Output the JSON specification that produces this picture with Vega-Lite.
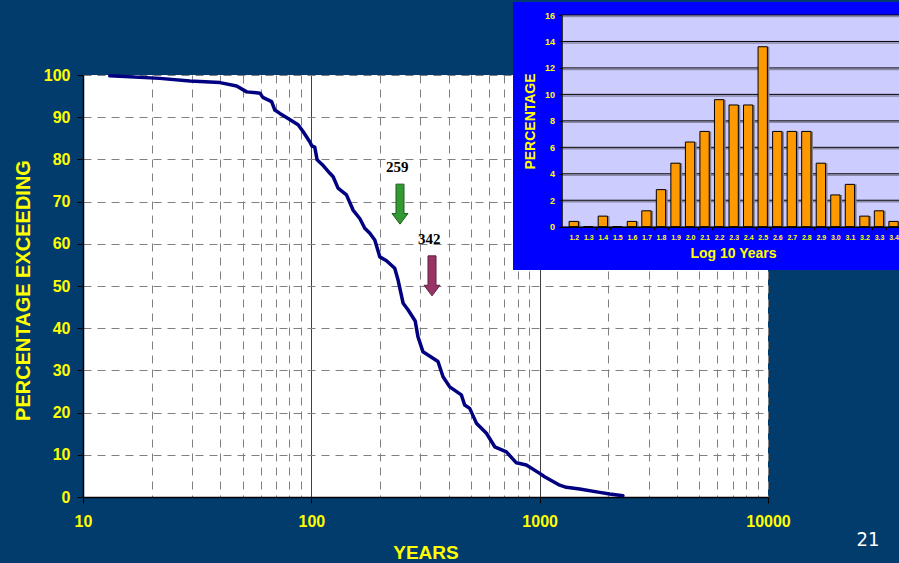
{
  "$schema": "https://vega.github.io/schema/vega-lite/v6.json",
  "width": 685,
  "height": 422,
  "autosize": {"type": "none"},
  "padding": {"left": 83, "top": 75, "right": 131, "bottom": 66},
  "background": "#013C6C",
  "config": {"view": {"fill": "white", "stroke": null}, "font": "Liberation Sans"},
  "resolve": {"scale": {"x": "independent", "y": "independent"}, "axis": {"x": "independent", "y": "independent"}},
  "layer": [
    {
      "data": {"values": [
        {"years": 13.1, "pct": 99.8}, {"years": 21.7, "pct": 99.2}, {"years": 29.4, "pct": 98.6},
        {"years": 39.8, "pct": 98.2}, {"years": 47.1, "pct": 97.4}, {"years": 52.1, "pct": 96.0},
        {"years": 59.6, "pct": 95.7}, {"years": 61.3, "pct": 94.7}, {"years": 67, "pct": 93.7},
        {"years": 69.2, "pct": 91.7}, {"years": 72.8, "pct": 90.9}, {"years": 79.1, "pct": 89.7},
        {"years": 87.5, "pct": 88.2}, {"years": 92, "pct": 86.6}, {"years": 98.4, "pct": 84.2},
        {"years": 100.5, "pct": 83.2}, {"years": 103.5, "pct": 82.9}, {"years": 106, "pct": 79.9},
        {"years": 111.5, "pct": 78.8}, {"years": 120.6, "pct": 76.7}, {"years": 124.6, "pct": 75.9},
        {"years": 130.9, "pct": 73.2}, {"years": 142.5, "pct": 71.6}, {"years": 152.3, "pct": 68.0},
        {"years": 163, "pct": 66.0}, {"years": 171.4, "pct": 63.7}, {"years": 180.4, "pct": 62.5},
        {"years": 189.6, "pct": 60.9}, {"years": 199.5, "pct": 56.9}, {"years": 213.4, "pct": 56.0},
        {"years": 231.9, "pct": 54.2}, {"years": 239.8, "pct": 51.4}, {"years": 252.4, "pct": 45.9},
        {"years": 265.5, "pct": 44.3}, {"years": 285, "pct": 41.7}, {"years": 293, "pct": 38.0},
        {"years": 308.3, "pct": 34.4}, {"years": 358.6, "pct": 32.1}, {"years": 377.4, "pct": 28.5},
        {"years": 403.7, "pct": 26.1}, {"years": 453.9, "pct": 24.2}, {"years": 469.3, "pct": 21.8},
        {"years": 493.9, "pct": 21.0}, {"years": 528.3, "pct": 17.5}, {"years": 584.5, "pct": 15.1},
        {"years": 635.8, "pct": 11.9}, {"years": 714.9, "pct": 10.7}, {"years": 790.5, "pct": 8.1},
        {"years": 874.3, "pct": 7.6}, {"years": 1000, "pct": 5.6}, {"years": 1051, "pct": 4.8},
        {"years": 1224, "pct": 2.8}, {"years": 1308, "pct": 2.3}, {"years": 1497, "pct": 1.9},
        {"years": 1831, "pct": 1.1}, {"years": 2025, "pct": 0.7}, {"years": 2315, "pct": 0.3}
      ]},
      "mark": {"type": "line", "color": "#000080", "strokeWidth": 3.5, "strokeCap": "round", "strokeJoin": "round"},
      "encoding": {
        "x": {
          "field": "years", "type": "quantitative",
          "scale": {"type": "log", "domain": [10, 10000]},
          "axis": {
            "orient": "bottom",
            "title": "YEARS",
            "values": [10, 20, 30, 40, 50, 60, 70, 80, 90, 100, 200, 300, 400, 500, 600, 700, 800, 900, 1000, 2000, 3000, 4000, 5000, 6000, 7000, 8000, 9000, 10000],
            "format": "d",
            "labelExpr": "(datum.value == 10 || datum.value == 100 || datum.value == 1000 || datum.value == 10000) ? datum.label : ''",
            "labelFlush": false, "labelOverlap": false,
            "labelColor": "#FFFF00", "labelFontWeight": "bold", "labelFontSize": 16, "labelPadding": 10,
            "tickSize": 6, "tickColor": "black",
            "tickOpacity": {"condition": {"test": "datum.value == 10 || datum.value == 100 || datum.value == 1000 || datum.value == 10000", "value": 1}, "value": 0},
            "domainColor": "black", "domainWidth": 1.5,
            "grid": true,
            "gridColor": {"condition": {"test": "datum.value == 100 || datum.value == 1000", "value": "black"}, "value": "#808080"},
            "gridDash": {"condition": {"test": "datum.value == 100 || datum.value == 1000", "value": [1, 0]}, "value": [8, 6]},
            "gridOpacity": 1, "gridWidth": 1,
            "titleColor": "#FFFF00", "titleFontWeight": "bold", "titleFontSize": 19,
            "titleX": 342.5, "titleY": 55, "titleBaseline": "middle", "titleAlign": "center"
          }
        },
        "y": {
          "field": "pct", "type": "quantitative",
          "scale": {"domain": [0, 100], "nice": false},
          "axis": {
            "orient": "left",
            "title": "PERCENTAGE EXCEEDING",
            "values": [0, 10, 20, 30, 40, 50, 60, 70, 80, 90, 100],
            "labelColor": "#FFFF00", "labelFontWeight": "bold", "labelFontSize": 16, "labelPadding": 7,
            "tickSize": 6, "tickColor": "black",
            "domainColor": "black", "domainWidth": 1.5,
            "grid": true, "gridColor": "#808080", "gridDash": [8, 6], "gridOpacity": 1, "gridWidth": 1,
            "titleColor": "#FFFF00", "titleFontWeight": "bold", "titleFontSize": 20,
            "titleX": -60, "titleY": 215, "titleAngle": -90, "titleBaseline": "middle", "titleAlign": "center"
          }
        }
      }
    },
    {
      "data": {"values": [{}]},
      "mark": {"type": "point", "shape": "M-0.2,-1L0.2,-1L0.2,0.47L0.4,0.47L0,1L-0.4,0.47L-0.2,0.47Z", "size": 1600, "filled": true, "fill": "#339933", "stroke": "#1E5E1E", "strokeWidth": 1, "opacity": 1},
      "encoding": {
        "x": {"datum": 244.5, "type": "quantitative", "scale": {"type": "log", "domain": [10, 10000]}, "axis": null},
        "y": {"datum": 69.4, "type": "quantitative", "scale": {"domain": [0, 100], "nice": false}, "axis": null}
      }
    },
    {
      "data": {"values": [{}]},
      "mark": {"type": "point", "shape": "M-0.2,-1L0.2,-1L0.2,0.47L0.4,0.47L0,1L-0.4,0.47L-0.2,0.47Z", "size": 1600, "filled": true, "fill": "#993366", "stroke": "#5E1E3E", "strokeWidth": 1, "opacity": 1},
      "encoding": {
        "x": {"datum": 337.7, "type": "quantitative", "scale": {"type": "log", "domain": [10, 10000]}, "axis": null},
        "y": {"datum": 52.4, "type": "quantitative", "scale": {"domain": [0, 100], "nice": false}, "axis": null}
      }
    },
    {
      "data": {"values": [{}]},
      "mark": {"type": "text", "text": "259", "font": "Liberation Serif", "fontWeight": "bold", "fontSize": 15, "color": "black", "baseline": "middle", "align": "center"},
      "encoding": {
        "x": {"datum": 238, "type": "quantitative", "scale": {"type": "log", "domain": [10, 10000]}, "axis": null},
        "y": {"datum": 78.3, "type": "quantitative", "scale": {"domain": [0, 100], "nice": false}, "axis": null}
      }
    },
    {
      "data": {"values": [{}]},
      "mark": {"type": "text", "text": "342", "font": "Liberation Serif", "fontWeight": "bold", "fontSize": 15, "color": "black", "baseline": "middle", "align": "center"},
      "encoding": {
        "x": {"datum": 328.2, "type": "quantitative", "scale": {"type": "log", "domain": [10, 10000]}, "axis": null},
        "y": {"datum": 61.2, "type": "quantitative", "scale": {"domain": [0, 100], "nice": false}, "axis": null}
      }
    },
    {
      "data": {"values": [{}]},
      "mark": {"type": "text", "text": "21", "font": "DejaVu Sans Condensed, Liberation Sans, sans-serif", "fontSize": 20, "color": "white", "baseline": "middle", "align": "center"},
      "encoding": {
        "x": {"datum": 27400, "type": "quantitative", "scale": {"type": "log", "domain": [10, 10000]}, "axis": null},
        "y": {"datum": -10.2, "type": "quantitative", "scale": {"domain": [0, 100], "nice": false}, "axis": null}
      }
    },
    {
      "data": {"values": [{}]},
      "mark": {"type": "rect", "color": "#0000FF"},
      "encoding": {
        "x": {"datum": 0.826, "type": "quantitative", "scale": {"domain": [1.15, 3.45], "range": [478.5, 822.8], "nice": false, "zero": false}, "axis": null},
        "x2": {"datum": 3.7},
        "y": {"datum": 16.98, "type": "quantitative", "scale": {"domain": [0, 16], "range": [151.7, -60], "nice": false, "zero": false}, "axis": null},
        "y2": {"datum": -3.27}
      }
    },
    {
      "data": {"values": [{}]},
      "mark": {"type": "rect", "color": "#CCCCFF"},
      "encoding": {
        "x": {"datum": 1.15, "type": "quantitative", "scale": {"domain": [1.15, 3.45], "range": [478.5, 822.8], "nice": false, "zero": false}, "axis": null},
        "x2": {"datum": 3.7},
        "y": {"datum": 0, "type": "quantitative", "scale": {"domain": [0, 16], "range": [151.7, -60], "nice": false, "zero": false}, "axis": null},
        "y2": {"datum": 16}
      }
    },
    {
      "data": {"values": [{"g": 2}, {"g": 4}, {"g": 6}, {"g": 8}, {"g": 10}, {"g": 12}, {"g": 14}, {"g": 16}]},
      "mark": {"type": "rule", "color": "#8A8AA8", "strokeWidth": 1.5, "yOffset": 1.5},
      "encoding": {
        "x": {"datum": 1.15, "type": "quantitative", "scale": {"domain": [1.15, 3.45], "range": [478.5, 822.8], "nice": false, "zero": false}, "axis": null},
        "x2": {"datum": 3.7},
        "y": {"field": "g", "type": "quantitative", "scale": {"domain": [0, 16], "range": [151.7, -60], "nice": false, "zero": false}, "axis": null}
      }
    },
    {
      "data": {"values": [{"g": 2}, {"g": 4}, {"g": 6}, {"g": 8}, {"g": 10}, {"g": 12}, {"g": 14}, {"g": 16}]},
      "mark": {"type": "rule", "color": "black", "strokeWidth": 1},
      "encoding": {
        "x": {"datum": 1.15, "type": "quantitative", "scale": {"domain": [1.15, 3.45], "range": [478.5, 822.8], "nice": false, "zero": false}, "axis": null},
        "x2": {"datum": 3.7},
        "y": {"field": "g", "type": "quantitative", "scale": {"domain": [0, 16], "range": [151.7, -60], "nice": false, "zero": false}, "axis": null}
      }
    },
    {
      "data": {"name": "hist", "values": [
        {"bin": 1.2, "pct": 0.4}, {"bin": 1.3, "pct": 0}, {"bin": 1.4, "pct": 0.8}, {"bin": 1.5, "pct": 0},
        {"bin": 1.6, "pct": 0.4}, {"bin": 1.7, "pct": 1.2}, {"bin": 1.8, "pct": 2.8}, {"bin": 1.9, "pct": 4.8},
        {"bin": 2.0, "pct": 6.4}, {"bin": 2.1, "pct": 7.2}, {"bin": 2.2, "pct": 9.6}, {"bin": 2.3, "pct": 9.2},
        {"bin": 2.4, "pct": 9.2}, {"bin": 2.5, "pct": 13.6}, {"bin": 2.6, "pct": 7.2}, {"bin": 2.7, "pct": 7.2},
        {"bin": 2.8, "pct": 7.2}, {"bin": 2.9, "pct": 4.8}, {"bin": 3.0, "pct": 2.4}, {"bin": 3.1, "pct": 3.2},
        {"bin": 3.2, "pct": 0.8}, {"bin": 3.3, "pct": 1.2}, {"bin": 3.4, "pct": 0.4}
      ]},
      "mark": {"type": "bar", "orient": "vertical", "width": 9.3, "fill": "#7F7F9A", "xOffset": 2},
      "encoding": {
        "x": {"field": "bin", "type": "quantitative", "scale": {"domain": [1.15, 3.45], "range": [478.5, 822.8], "nice": false, "zero": false}, "axis": null},
        "y": {"field": "pct", "type": "quantitative", "scale": {"domain": [0, 16], "range": [151.7, -60], "nice": false, "zero": false}, "axis": null}
      }
    },
    {
      "data": {"name": "hist"},
      "mark": {"type": "bar", "orient": "vertical", "width": 9.3, "fill": "#FF9900", "stroke": "black", "strokeWidth": 1},
      "encoding": {
        "x": {
          "field": "bin", "type": "quantitative",
          "scale": {"domain": [1.15, 3.45], "range": [478.5, 822.8], "nice": false, "zero": false},
          "axis": {
            "orient": "bottom", "offset": -270.3, "zindex": 1,
            "values": [1.2, 1.3, 1.4, 1.5, 1.6, 1.7, 1.8, 1.9, 2.0, 2.1, 2.2, 2.3, 2.4, 2.5, 2.6, 2.7, 2.8, 2.9, 3.0, 3.1, 3.2, 3.3, 3.4],
            "format": ".1f", "labelFlush": false, "labelOverlap": false,
            "labelColor": "#FFFF00", "labelFontWeight": "bold", "labelFontSize": 7, "labelPadding": 4,
            "tickSize": 3, "tickColor": "black", "tickOffset": 7.5, "labelOffset": -7.5,
            "domainColor": "black", "domainWidth": 1.5, "grid": false,
            "title": "Log 10 Years", "titleColor": "#FFFF00", "titleFontWeight": "bold", "titleFontSize": 14,
            "titleX": 650, "titleY": 27, "titleBaseline": "middle", "titleAlign": "center"
          }
        },
        "y": {
          "field": "pct", "type": "quantitative",
          "scale": {"domain": [0, 16], "range": [151.7, -60], "nice": false, "zero": false},
          "axis": {
            "orient": "left", "offset": -478.5, "zindex": 1,
            "values": [0, 2, 4, 6, 8, 10, 12, 14, 16],
            "labelColor": "#FFFF00", "labelFontWeight": "bold", "labelFontSize": 9, "labelPadding": 4,
            "tickSize": 3, "tickColor": "black",
            "domainColor": "black", "domainWidth": 1.5, "grid": false,
            "title": "PERCENTAGE", "titleColor": "#FFFF00", "titleFontWeight": "bold", "titleFontSize": 14,
            "titleX": -31.5, "titleY": 46, "titleAngle": -90, "titleBaseline": "middle", "titleAlign": "center"
          }
        }
      }
    }
  ]
}
